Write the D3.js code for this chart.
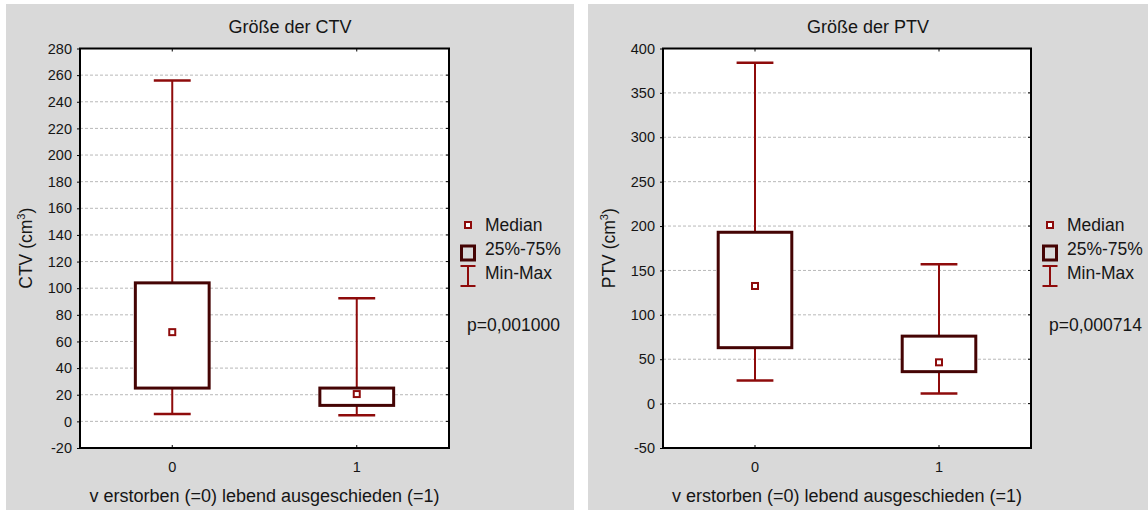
<!DOCTYPE html>
<html><head><meta charset="utf-8">
<script src="https://cdn.jsdelivr.net/npm/d3@7"></script>
<style>
html,body{margin:0;padding:0;background:#fff;}
svg{display:block;font-family:"Liberation Sans",Arial,sans-serif;}
</style></head>
<body>
<svg id="chart" width="1148" height="510"></svg>
<script>
// ---- data ----
const categories = ["0", "1"];
const ctvMin    = [5.5, 4.5];
const ctvQ1     = [25, 12];
const ctvMedian = [67, 20.5];
const ctvQ3     = [104, 25];
const ctvMax    = [256, 92.5];
const ctvTicks  = [-20, 0, 20, 40, 60, 80, 100, 120, 140, 160, 180, 200, 220, 240, 260, 280];

const ptvMin    = [26, 11.5];
const ptvQ1     = [63, 36];
const ptvMedian = [132.5, 46.5];
const ptvQ3     = [193, 76];
const ptvMax    = [384, 157];
const ptvTicks  = [-50, 0, 50, 100, 150, 200, 250, 300, 350, 400];

const legendLabels = ["Median", "25%-75%", "Min-Max"];
const xTitle = "v erstorben (=0) lebend ausgeschieden (=1)";

const panels = [
  {title: "Größe der CTV", yName: "CTV", p: "p=0,001000",
   min: ctvMin, q1: ctvQ1, med: ctvMedian, q3: ctvQ3, max: ctvMax, ticks: ctvTicks,
   bg: [6, 4, 574, 510], plot: [80, 48.5, 449, 448]},
  {title: "Größe der PTV", yName: "PTV", p: "p=0,000714",
   min: ptvMin, q1: ptvQ1, med: ptvMedian, q3: ptvQ3, max: ptvMax, ticks: ptvTicks,
   bg: [588, 4, 1148, 510], plot: [663, 48.5, 1031, 448]}
];

const whiskerCol = "#8e0b0b";
const boxCol = "#450404";
const txtCol = "#151515";
const svg = d3.select("#chart");

panels.forEach(P => {
  const [bx0, by0, bx1, by1] = P.bg;
  const [L, T, R, B] = P.plot;
  const g = svg.append("g");
  g.append("rect").attr("x", bx0).attr("y", by0).attr("width", bx1 - bx0).attr("height", by1 - by0).attr("fill", "#d9d9d9");
  g.append("rect").attr("x", L).attr("y", T).attr("width", R - L).attr("height", B - T).attr("fill", "#fff");

  const y = d3.scaleLinear().domain([P.ticks[0], P.ticks[P.ticks.length - 1]]).range([B, T]);
  const x = d3.scaleBand().domain(categories).range([L, R]);
  const bw = x.bandwidth();
  const cx = c => x(c) + bw / 2;

  // gridlines
  g.append("g").selectAll("line").data(P.ticks.slice(1, -1)).join("line")
    .attr("x1", L).attr("x2", R).attr("y1", d => y(d)).attr("y2", d => y(d))
    .attr("stroke", "#b8b8b8").attr("stroke-width", 1).attr("stroke-dasharray", "3,2");

  // y axis
  const yAx = g.append("g").attr("transform", `translate(${L},0)`)
    .call(d3.axisLeft(y).tickValues(P.ticks).tickFormat(d => String(d)).tickSize(3).tickPadding(5));
  yAx.select(".domain").remove();
  yAx.selectAll("line").attr("stroke", "#000");
  yAx.selectAll("text").attr("font-size", 14.5).attr("fill", txtCol).attr("font-family", "Liberation Sans, Arial, sans-serif");

  // right inner ticks
  g.append("g").selectAll("line").data(P.ticks).join("line")
    .attr("x1", R - 3).attr("x2", R).attr("y1", d => y(d)).attr("y2", d => y(d))
    .attr("stroke", "#000").attr("stroke-width", 1);

  // x axis
  const xAx = g.append("g").attr("transform", `translate(0,${B})`)
    .call(d3.axisBottom(x).tickSize(-3).tickPadding(14));
  xAx.select(".domain").remove();
  xAx.selectAll("line").attr("stroke", "#000");
  xAx.selectAll("text").attr("font-size", 14.5).attr("fill", txtCol).attr("font-family", "Liberation Sans, Arial, sans-serif");
  // top inner ticks
  g.append("g").selectAll("line").data(categories).join("line")
    .attr("x1", d => cx(d)).attr("x2", d => cx(d)).attr("y1", T).attr("y2", T + 3)
    .attr("stroke", "#000").attr("stroke-width", 1);

  // frame
  g.append("rect").attr("x", L).attr("y", T).attr("width", R - L).attr("height", B - T)
    .attr("fill", "none").attr("stroke", "#000").attr("stroke-width", 2);

  // boxes
  const idx = categories.map((c, i) => i);
  const boxW = bw * 0.4, capW = bw * 0.2;
  const bg2 = g.append("g");
  bg2.selectAll(".wu").data(idx).join("line")
    .attr("x1", i => cx(categories[i])).attr("x2", i => cx(categories[i]))
    .attr("y1", i => y(P.max[i])).attr("y2", i => y(P.q3[i]))
    .attr("stroke", whiskerCol).attr("stroke-width", 2);
  bg2.selectAll(".wl").data(idx).join("line")
    .attr("x1", i => cx(categories[i])).attr("x2", i => cx(categories[i]))
    .attr("y1", i => y(P.q1[i])).attr("y2", i => y(P.min[i]))
    .attr("stroke", whiskerCol).attr("stroke-width", 2);
  bg2.selectAll(".cu").data(idx).join("line")
    .attr("x1", i => cx(categories[i]) - capW / 2).attr("x2", i => cx(categories[i]) + capW / 2)
    .attr("y1", i => y(P.max[i])).attr("y2", i => y(P.max[i]))
    .attr("stroke", whiskerCol).attr("stroke-width", 2.5);
  bg2.selectAll(".cl").data(idx).join("line")
    .attr("x1", i => cx(categories[i]) - capW / 2).attr("x2", i => cx(categories[i]) + capW / 2)
    .attr("y1", i => y(P.min[i])).attr("y2", i => y(P.min[i]))
    .attr("stroke", whiskerCol).attr("stroke-width", 2.5);
  bg2.selectAll(".bx").data(idx).join("rect")
    .attr("x", i => cx(categories[i]) - boxW / 2).attr("width", boxW)
    .attr("y", i => y(P.q3[i])).attr("height", i => y(P.q1[i]) - y(P.q3[i]))
    .attr("fill", "#fff").attr("stroke", boxCol).attr("stroke-width", 3);
  bg2.selectAll(".md").data(idx).join("rect")
    .attr("x", i => cx(categories[i]) - 3).attr("y", i => y(P.med[i]) - 3)
    .attr("width", 6).attr("height", 6)
    .attr("fill", "#fff").attr("stroke", whiskerCol).attr("stroke-width", 2);

  // titles
  g.append("text").attr("x", (bx0 + bx1) / 2).attr("y", 33).attr("text-anchor", "middle")
    .attr("font-size", 18).attr("fill", txtCol).text(P.title);
  g.append("text").attr("x", (L + R) / 2).attr("y", 502).attr("text-anchor", "middle")
    .attr("font-size", 18).attr("fill", txtCol).text(xTitle);
  const yl = g.append("text").attr("transform", `translate(${L - 48},${(T + B) / 2}) rotate(-90)`)
    .attr("text-anchor", "middle").attr("font-size", 17.5).attr("fill", txtCol);
  yl.append("tspan").text(P.yName + " (cm");
  yl.append("tspan").attr("font-size", 11).attr("dy", -7).text("3");
  yl.append("tspan").attr("dy", 7).text(")");

  // legend
  const lx = R + 19;
  const lg = g.append("g");
  lg.append("rect").attr("x", lx - 3).attr("y", 222).attr("width", 6).attr("height", 6)
    .attr("fill", "#fff").attr("stroke", whiskerCol).attr("stroke-width", 2);
  lg.append("rect").attr("x", lx - 6.5).attr("y", 246).attr("width", 13).attr("height", 14)
    .attr("fill", "none").attr("stroke", boxCol).attr("stroke-width", 3);
  lg.append("line").attr("x1", lx).attr("x2", lx).attr("y1", 266).attr("y2", 286).attr("stroke", whiskerCol).attr("stroke-width", 2);
  lg.append("line").attr("x1", lx - 7.5).attr("x2", lx + 7.5).attr("y1", 266).attr("y2", 266).attr("stroke", whiskerCol).attr("stroke-width", 2);
  lg.append("line").attr("x1", lx - 7.5).attr("x2", lx + 7.5).attr("y1", 286).attr("y2", 286).attr("stroke", whiskerCol).attr("stroke-width", 2);
  lg.selectAll(".lt").data(legendLabels).join("text")
    .attr("x", lx + 17).attr("y", (d, i) => 231 + i * 24).attr("font-size", 17.5).attr("fill", txtCol).text(d => d);
  lg.append("text").attr("x", lx - 1).attr("y", 331).attr("font-size", 17.5).attr("fill", txtCol).text(P.p);
});
</script>
</body></html>
